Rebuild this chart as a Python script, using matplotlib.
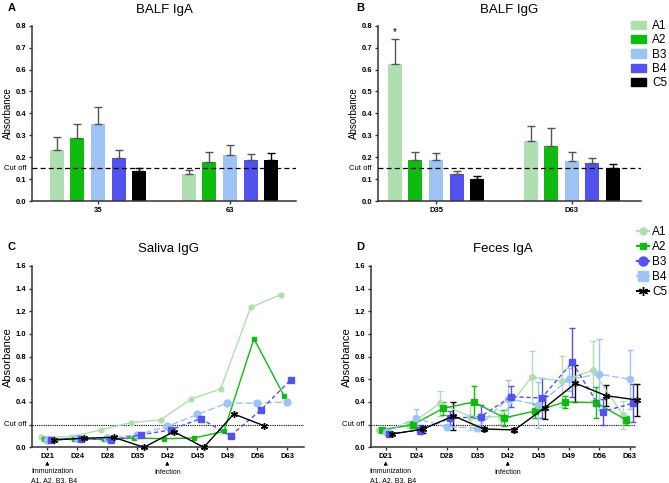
import numpy as np
import matplotlib
matplotlib.use('Agg')
import matplotlib.pyplot as plt
from matplotlib.lines import Line2D
from matplotlib.patches import Patch
from matplotlib import transforms

plt.rcParams['font.family'] = ['Liberation Sans', 'DejaVu Sans']

groups = ['A1', 'A2', 'B3', 'B4', 'C5']
bar_colors = ['#afdfb0', '#10bb10', '#9ec3f5', '#5252ee', '#000000']

# BALF IgA (panel A), days 35 and 63
iga_labels = ['35', '63']
iga_mean = [[0.234, 0.124], [0.287, 0.180], [0.350, 0.208], [0.196, 0.188], [0.137, 0.185]]
iga_err = [[0.058, 0.019], [0.063, 0.043], [0.077, 0.046], [0.035, 0.028], [0.013, 0.035]]

# BALF IgG (panel B)
igg_labels = ['D35', 'D63']
igg_mean = [[0.624, 0.273], [0.189, 0.252], [0.186, 0.182], [0.124, 0.174], [0.100, 0.152]]
igg_err = [[0.114, 0.069], [0.035, 0.081], [0.034, 0.041], [0.012, 0.023], [0.014, 0.016]]

days = ['D21', 'D24', 'D28', 'D35', 'D42', 'D45', 'D49', 'D56', 'D63']

# Saliva IgG (panel C)
sal_a1 = [0.094, 0.090, 0.153, 0.218, 0.241, 0.424, 0.515, 1.235, 1.347]
sal_a2 = [0.070, 0.076, 0.070, 0.082, 0.076, 0.082, 0.141, 0.959, 0.456]
sal_b4 = [0.065, 0.080, 0.080, 0.110, 0.185, 0.290, 0.390, 0.390, 0.400]
sal_b3 = [0.065, 0.076, 0.065, 0.110, 0.153, 0.253, 0.103, 0.326, 0.594]
sal_c5 = [0.065, 0.080, 0.088, 0.000, 0.138, 0.000, 0.294, 0.191, np.nan]

# Feces IgA (panel D): means and symmetric SEM
fec_a1 = [0.153, 0.197, 0.388, 0.270, 0.270, 0.620, 0.585, 0.680, 0.285]
fec_a1_err = [0.010, 0.030, 0.110, 0.120, 0.060, 0.230, 0.225, 0.260, 0.120]
fec_a2 = [0.153, 0.200, 0.344, 0.400, 0.260, 0.320, 0.400, 0.395, 0.240]
fec_a2_err = [0.010, 0.030, 0.060, 0.145, 0.070, 0.060, 0.050, 0.135, 0.040]
fec_b3 = [0.118, 0.153, 0.256, 0.270, 0.447, 0.435, 0.750, 0.315, 0.390]
fec_b3_err = [0.010, 0.040, 0.060, 0.100, 0.090, 0.175, 0.305, 0.115, 0.165]
fec_b4 = [0.138, 0.256, 0.180, 0.170, 0.430, 0.375, 0.600, 0.645, 0.600]
fec_b4_err = [0.010, 0.085, 0.030, 0.030, 0.165, 0.205, 0.100, 0.315, 0.260]
fec_c5 = [0.118, 0.160, 0.277, 0.162, 0.153, 0.350, 0.565, 0.456, 0.418]
fec_c5_err = [0.010, 0.030, 0.125, 0.020, 0.020, 0.100, 0.165, 0.090, 0.138]

W, H = 669, 483
fig = plt.figure(figsize=(W / 100, H / 100), dpi=100)


def px_axes(left, top, right, bottom):
    return fig.add_axes([left / W, 1 - bottom / H, (right - left) / W, (bottom - top) / H])


def style(ax):
    for s in ['top', 'right']:
        ax.spines[s].set_visible(False)
    for s in ['left', 'bottom']:
        ax.spines[s].set_linewidth(1.1)
        ax.spines[s].set_color('#333333')
    ax.tick_params(direction='out', length=2.5, width=1, colors='#333333', labelsize=5.5, pad=1.5)
    for lab in ax.get_xticklabels() + ax.get_yticklabels():
        lab.set_fontweight('bold')
        lab.set_color('black')


def bar_panel(ax, labels, means, errs, step, width, xlim, title, letter, letter_x):
    x = np.arange(len(labels))
    for i, g in enumerate(groups):
        pos = x + (i - 2) * step
        ecol = '#000000' if g == 'C5' else '#555555'
        ax.bar(pos, means[i], width, color=bar_colors[i], label=g, zorder=2)
        ax.errorbar(pos, means[i], yerr=[np.zeros(len(labels)), errs[i]], fmt='none',
                    ecolor=ecol, elinewidth=1, capsize=3, capthick=1, zorder=3)
    ax.axhline(0.15, color='black', ls=(0, (4, 2.5)), lw=0.9, zorder=4)
    ax.set_xlim(*xlim)
    ax.set_ylim(0, 0.8)
    ax.set_yticks(np.arange(0, 0.81, 0.1))
    ax.set_yticklabels(['%.1f' % v for v in np.arange(0, 0.81, 0.1)])
    ax.set_xticks(x)
    ax.set_xticklabels(labels)
    ax.tick_params(axis='x', length=0, pad=4)
    style(ax)
    ax.text(-0.022, 0.15, 'Cut off', transform=transforms.blended_transform_factory(ax.transAxes, ax.transData),
            ha='right', va='center', fontsize=5.5)
    ax.set_ylabel('Absorbance', fontsize=7, labelpad=2)
    ax.set_title(title, fontsize=9.5, pad=9)
    fig.text(letter_x / W, 1 - 8 / H, letter, fontsize=8, fontweight='bold', va='center')


axA = px_axes(32, 25.7, 296, 201)
bar_panel(axA, iga_labels, iga_mean, iga_err, 0.157, 0.106, (-0.5, 1.5), 'BALF IgA', 'A', 8)

axB = px_axes(377.7, 25.7, 641, 201)
bar_panel(axB, igg_labels, igg_mean, igg_err, 0.152, 0.103, (-0.43, 1.51), 'BALF IgG', 'B', 356)
axB.text(0 - 2 * 0.152, 0.75, '*', ha='center', va='bottom', fontsize=7)

leg_bars = [Patch(color=c) for c in bar_colors]
fig.legend(leg_bars, groups, loc='upper left', bbox_to_anchor=(631 / W, 1 - 20 / H), frameon=False,
           fontsize=8.5, handlelength=1.3, handleheight=0.7, labelspacing=0.2, handletextpad=0.5,
           borderaxespad=0, borderpad=0)

light_green = '#afdfb0'
green = '#10bb10'
light_blue = '#9ec3f5'
dark_blue = '#5252ee'
star = (6, 2, 0)
offs = [-0.22, -0.11, 0.0, 0.11, 0.22]


def line_panel(ax, series, xlim, title, letter, letter_x, imm_x):
    x = np.arange(len(days))
    for vals, errs, off, col, mk, ms, ls in series:
        if errs is None:
            ax.plot(x + off, vals, color=col, marker=mk, ms=ms, ls=ls, lw=1, mec=col, zorder=3, clip_on=False)
        else:
            ax.errorbar(x + off, vals, yerr=errs, color=col, marker=mk, ms=ms, ls=ls, lw=1, mec=col,
                        elinewidth=1, capsize=2.5, capthick=1, zorder=3, clip_on=False)
    ax.axhline(0.2, color='black', ls=(0, (1, 1)), lw=0.8, zorder=2)
    ax.set_xlim(*xlim)
    ax.set_ylim(0, 1.6)
    yt = np.arange(0, 1.61, 0.2)
    ax.set_yticks(yt)
    ax.set_yticklabels(['' if abs(v - 0.2) < 1e-6 else '%.1f' % v for v in yt])
    ax.set_xticks(x)
    ax.set_xticklabels(days)
    ax.tick_params(axis='x', pad=3)
    style(ax)
    ax.text(-0.022, 0.2, 'Cut off', transform=transforms.blended_transform_factory(ax.transAxes, ax.transData),
            ha='right', va='center', fontsize=5.5)
    ax.set_ylabel('Absorbance', fontsize=8, labelpad=2)
    ax.set_title(title, fontsize=9.5, pad=10)
    fig.text(letter_x / W, 1 - 247 / H, letter, fontsize=8, fontweight='bold', va='center')
    tr = transforms.blended_transform_factory(ax.transData, ax.transAxes)
    for xi in [0, 4]:
        ax.annotate('', xy=(xi, -0.062), xytext=(xi, -0.105), xycoords=tr, textcoords=tr,
                    arrowprops=dict(arrowstyle='-|>', color='black', lw=0.7, mutation_scale=5))
    ax.text(imm_x, -0.115, 'Immunization\nA1, A2, B3, B4', transform=tr, ha='left', va='top',
            fontsize=5, linespacing=1.3)
    ax.text(4, -0.118, 'Infection', transform=tr, ha='center', va='top', fontsize=5)


axC = px_axes(32, 266, 304, 447.3)
line_panel(axC, [
    (sal_a1, None, offs[0], light_green, 'o', 3.5, '-'),
    (sal_a2, None, offs[1], green, 's', 3.5, '-'),
    (sal_b4, None, offs[2], light_blue, 'o', 5, (0, (5, 2))),
    (sal_b3, None, offs[3], dark_blue, 's', 5, (0, (3, 2))),
    (sal_c5, None, offs[4], 'black', star, 5, '-'),
], (-0.51, 8.56), 'Saliva IgG', 'C', 8, -0.54)

axD = px_axes(370.7, 266, 635, 447.3)
line_panel(axD, [
    (fec_a1, fec_a1_err, offs[0], light_green, 'o', 4, '-'),
    (fec_a2, fec_a2_err, offs[1], green, 's', 4, '-'),
    (fec_b4, fec_b4_err, offs[2], light_blue, 'o', 4.5, (0, (5, 2))),
    (fec_b3, fec_b3_err, offs[3], dark_blue, 's', 5, (0, (3, 2))),
    (fec_c5, fec_c5_err, offs[4], 'black', star, 5, '-'),
], (-0.49, 8.17), 'Feces IgA', 'D', 356, -0.52)

leg_lines = [
    Line2D([], [], color=light_green, marker='o', ms=5, lw=1.5),
    Line2D([], [], color=green, marker='s', ms=5, lw=1.5),
    Line2D([], [], color=dark_blue, marker='o', ms=6.5, lw=1.5),
    Line2D([], [], color=light_blue, marker='s', ms=6.5, lw=1.5),
    Line2D([], [], color='black', marker=star, ms=6.5, lw=1.5),
]
fig.legend(leg_lines, groups, loc='upper left', bbox_to_anchor=(637 / W, 1 - 226 / H), frameon=False,
           fontsize=8.5, handlelength=1.0, labelspacing=0.25, handletextpad=0.3, borderaxespad=0,
           borderpad=0)

fig.savefig('out.png', dpi=100)
